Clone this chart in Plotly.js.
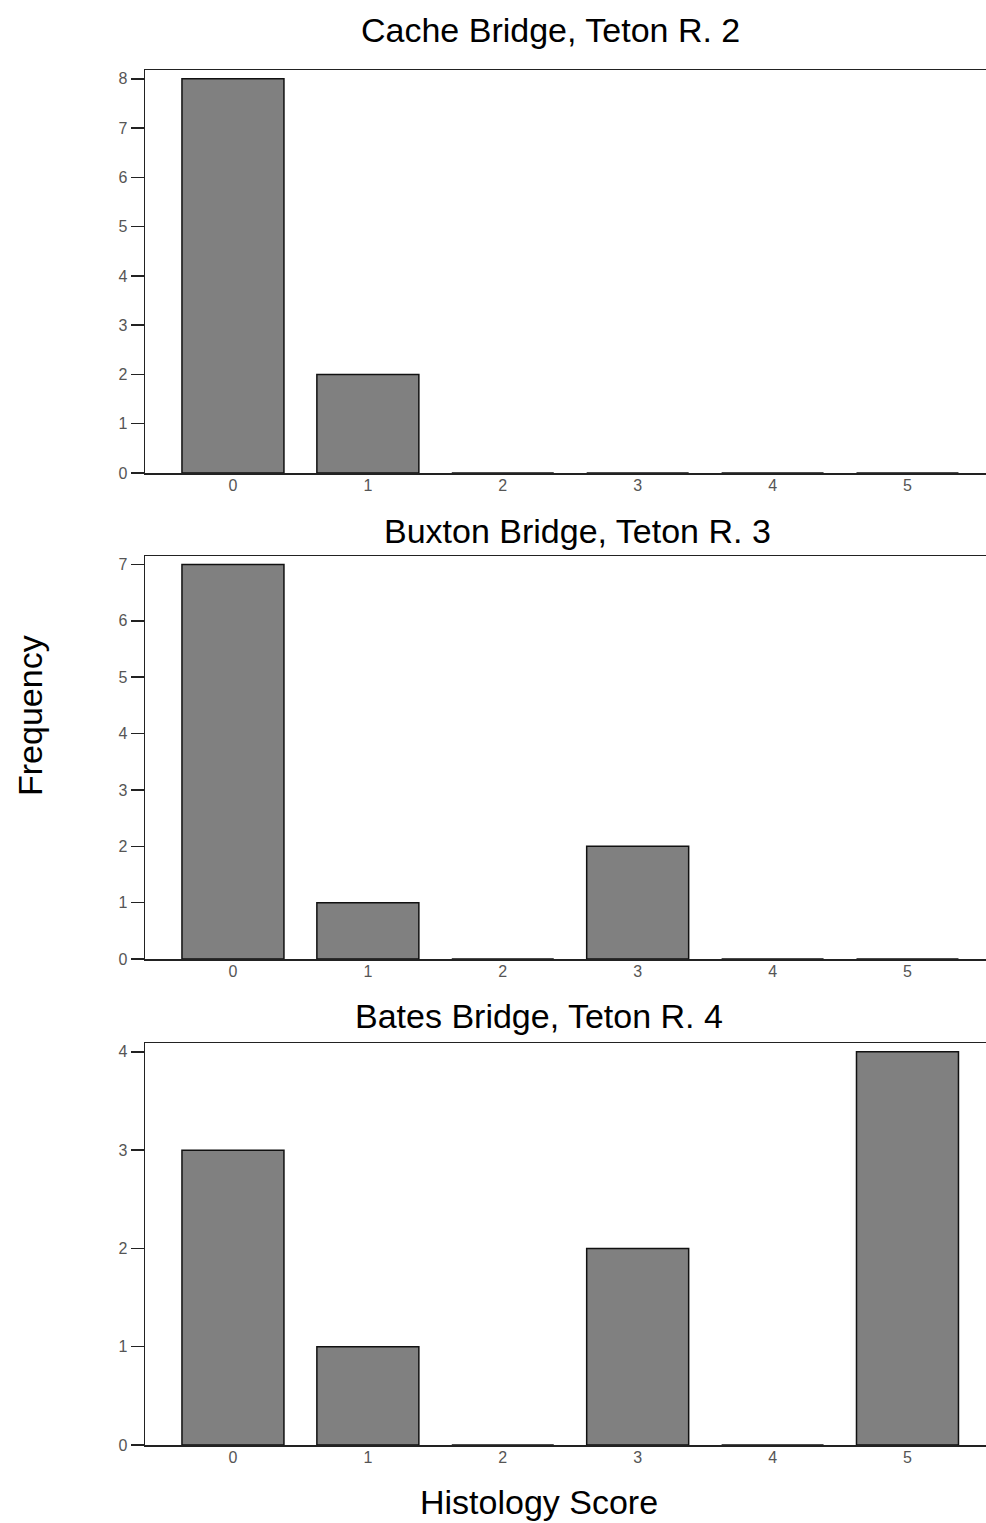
<!DOCTYPE html>
<html>
<head>
<meta charset="utf-8">
<script src="https://cdn.plot.ly/plotly-3.0.1.min.js"></script>
<style>html,body{margin:0;padding:0;background:#fff;}</style>
</head>
<body>
<div id="chart" style="width:986px;height:1523px;"></div>
<script>
const scores = [0, 1, 2, 3, 4, 5];
const scoreLabels = ["0", "1", "2", "3", "4", "5"];
const cacheFreq = [8, 2, 0, 0, 0, 0];
const buxtonFreq = [7, 1, 0, 2, 0, 0];
const batesFreq = [3, 1, 0, 2, 0, 4];
const panelTitles = ["Cache Bridge, Teton R. 2", "Buxton Bridge, Teton R. 3", "Bates Bridge, Teton R. 4"];
const yTicks1 = [0, 1, 2, 3, 4, 5, 6, 7, 8];
const yTicks2 = [0, 1, 2, 3, 4, 5, 6, 7];
const yTicks3 = [0, 1, 2, 3, 4];

const H = 1523;
const py = v => 1 - v / H;

const barStyle = {
  type: 'bar', width: 0.756,
  marker: {color: '#808080', line: {color: '#111', width: 1.5}},
  hoverinfo: 'skip', showlegend: false
};
const traces = [
  Object.assign({x: scores, y: cacheFreq, xaxis: 'x', yaxis: 'y'}, barStyle),
  Object.assign({x: scores, y: buxtonFreq, xaxis: 'x2', yaxis: 'y2'}, barStyle),
  Object.assign({x: scores, y: batesFreq, xaxis: 'x3', yaxis: 'y3'}, barStyle)
];

const tickFont = {family: 'Liberation Sans, Arial, sans-serif', size: 16, color: '#555'};
function xax(anchor) {
  return {
    anchor: anchor, domain: [0, 1], range: [-0.652, 5.582],
    tickmode: 'array', tickvals: scores, ticktext: scoreLabels,
    ticks: '', showgrid: false, zeroline: false, ticklabelstandoff: -3,
    showline: true, linecolor: '#222', linewidth: 1.5, mirror: true,
    tickfont: tickFont, fixedrange: true
  };
}
function yax(anchor, dom, top, ticks) {
  return {
    anchor: anchor, domain: dom, range: [0, top],
    tickmode: 'array', tickvals: ticks, ticktext: ticks.map(String),
    ticks: 'outside', ticklen: 13, tickwidth: 1.5, tickcolor: '#222',
    showgrid: false, zeroline: false,
    showline: true, linecolor: '#222', linewidth: 1.5,
    tickfont: tickFont, fixedrange: true
  };
}

const titleFont = {family: 'Liberation Sans, Arial, sans-serif', size: 34, color: '#000'};
function ann(text, xpx, ypx, extra) {
  return Object.assign({
    text: text, xref: 'paper', yref: 'paper',
    x: (xpx - 145) / 841, y: py(ypx),
    xanchor: 'center', yanchor: 'middle', showarrow: false, font: titleFont
  }, extra || {});
}

const layout = {
  width: 986, height: 1523,
  margin: {l: 145, r: 0, t: 0, b: 0},
  paper_bgcolor: '#fff', plot_bgcolor: '#fff',
  bargap: 0,
  xaxis: xax('y'), yaxis: yax('x', [py(473), py(70)], 8.18, yTicks1),
  xaxis2: xax('y2'), yaxis2: yax('x2', [py(959), py(556)], 7.15, yTicks2),
  xaxis3: xax('y3'), yaxis3: yax('x3', [py(1445), py(1043)], 4.09, yTicks3),
  annotations: [
    ann(panelTitles[0], 550, 30),
    ann(panelTitles[1], 577, 531),
    ann(panelTitles[2], 539, 1016),
    ann('Frequency', 30, 715, {textangle: -90}),
    ann('Histology Score', 539, 1502)
  ]
};

Plotly.newPlot('chart', traces, layout, {displayModeBar: false, staticPlot: true});
</script>
</body>
</html>
